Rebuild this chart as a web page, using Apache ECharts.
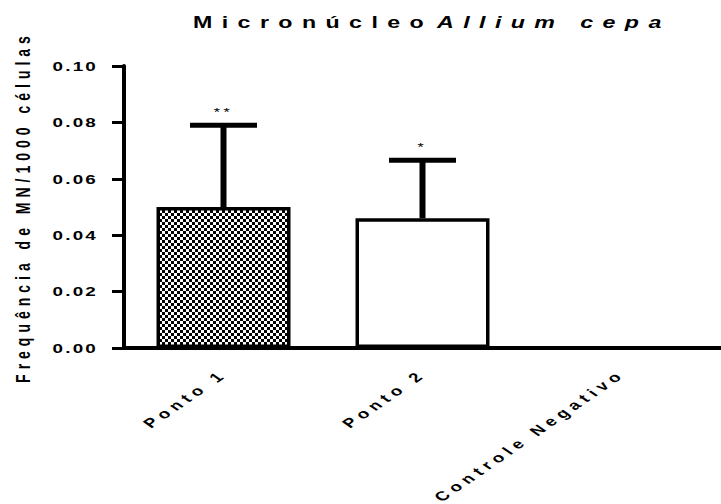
<!DOCTYPE html>
<html>
<head>
<meta charset="utf-8">
<script src="https://cdn.jsdelivr.net/npm/echarts@6/dist/echarts.min.js"></script>
<style>
html,body{margin:0;padding:0;background:#fff;}
#chart{width:721px;height:504px;}
</style>
</head>
<body>
<div id="chart"></div>
<script>
// ---- data ----
const categories = ['Ponto 1', 'Ponto 2', 'Controle Negativo'];
const meanValues = [0.050, 0.046, 0];
const sdValues = [0.029, 0.0206, 0];
const significance = ['**', '*', ''];
const titleMain = 'Micronúcleo';
const titleSpecies = 'Allium cepa';
const yAxisTitle = 'Frequência de MN/1000 células';
const yMin = 0, yMax = 0.10, yStep = 0.02;

// ---- styling helpers ----
const FONT = "'Liberation Sans', Arial, Helvetica, sans-serif";
function checkerPattern() {
  const c = document.createElement('canvas');
  c.width = 6; c.height = 6;
  const g = c.getContext('2d');
  g.fillStyle = '#fff'; g.fillRect(0, 0, 6, 6);
  g.fillStyle = '#000'; g.fillRect(0, 0, 3, 3); g.fillRect(3, 3, 3, 3);
  return c.toDataURL();
}
const patternFill = { image: checkerPattern(), repeat: 'repeat', imageWidth: 6, imageHeight: 6 };

const barData = meanValues.map((v, i) => ({
  value: v,
  itemStyle: { color: i === 0 ? patternFill : '#ffffff' }
}));
const errData = meanValues.map((v, i) => [i, v, v + sdValues[i]]);

const option = {
  animation: false,
  backgroundColor: '#ffffff',
  title: [
    { text: titleMain, left: 193, top: 14, padding: 0,
      textStyle: { fontFamily: FONT, fontSize: 16, fontWeight: 'bold', color: '#000' } },
    { text: titleSpecies, left: 437, top: 14, padding: 0,
      textStyle: { fontFamily: FONT, fontSize: 16, fontWeight: 'bold', fontStyle: 'italic', color: '#000' } }
  ],
  grid: { left: 124, right: -14, top: 66, bottom: 156, containLabel: false },
  xAxis: {
    type: 'category',
    data: categories,
    axisLine: { lineStyle: { color: '#000', width: 4 } },
    axisTick: { alignWithLabel: true, length: 8, lineStyle: { color: '#000', width: 4 } },
    axisLabel: { interval: 0, rotate: 45, margin: 24, color: '#000',
      fontFamily: FONT, fontSize: 13, fontWeight: 'bold' },
    splitLine: { show: false }
  },
  yAxis: {
    type: 'value',
    min: yMin, max: yMax, interval: yStep,
    name: yAxisTitle,
    nameLocation: 'middle',
    nameRotate: 90,
    nameGap: 94,
    nameTextStyle: { fontFamily: FONT, fontSize: 14, fontWeight: 'bold', color: '#000' },
    axisLine: { show: true, lineStyle: { color: '#000', width: 4 } },
    axisTick: { show: true, length: 12, lineStyle: { color: '#000', width: 3 } },
    axisLabel: { margin: 26, color: '#000', fontFamily: FONT, fontSize: 13, fontWeight: 'bold',
      formatter: v => v.toFixed(2) },
    splitLine: { show: false }
  },
  series: [
    {
      type: 'bar',
      data: barData,
      barWidth: 134,
      itemStyle: { borderColor: '#000', borderWidth: 3.5 },
      z: 2
    },
    {
      type: 'custom',
      data: errData,
      encode: { x: 0, y: [1, 2] },
      z: 3,
      renderItem: function (params, api) {
        const i = api.value(0), lo = api.value(1), hi = api.value(2);
        if (!(hi > lo)) return null;
        const pLo = api.coord([i, lo]);
        const pHi = api.coord([i, hi]);
        const half = 33.5;
        return {
          type: 'group',
          children: [
            { type: 'line', shape: { x1: pLo[0], y1: pLo[1], x2: pHi[0], y2: pHi[1] },
              style: { stroke: '#000', lineWidth: 6 } },
            { type: 'line', shape: { x1: pHi[0] - half, y1: pHi[1], x2: pHi[0] + half, y2: pHi[1] },
              style: { stroke: '#000', lineWidth: 5 } },
            { type: 'text', x: pHi[0], y: pHi[1] - 13,
              style: { text: significance[params.dataIndex], fill: '#000', align: 'center',
                verticalAlign: 'middle', fontFamily: FONT, fontSize: 11 } }
          ]
        };
      }
    }
  ]
};

const dom = document.getElementById('chart');
const chart = echarts.init(dom, null, { renderer: 'svg' });
chart.setOption(option);

// Prism-like wide, letter-spaced lettering
function textLook(t) {
  if (t === titleMain || t === titleSpecies) return { s: 6.5, sx: 1.45 };
  if (t === yAxisTitle) return { s: 5, sx: 1.45 };
  if (categories.indexOf(t) >= 0) return { s: 4, sx: 1.45 };
  if (t && significance.indexOf(t) >= 0) return { s: 2.5, sx: 1.45 };
  if (/^\d\.\d\d$/.test(t)) return { s: 1.5, sx: 1.45 };
  return null;
}
const applied = new WeakMap();
function styleTexts() {
  const svg = dom.querySelector('svg');
  if (!svg) return;
  svg.querySelectorAll('text').forEach(el => {
    const look = textLook(el.textContent);
    if (!look) return;
    const cur = el.getAttribute('transform') || '';
    if (applied.get(el) === cur) return;
    el.setAttribute('letter-spacing', look.s);
    const x = parseFloat(el.getAttribute('x')) || 0;
    const y = parseFloat(el.getAttribute('y')) || 0;
    const m = el.getCTM();
    const px = m.a * x + m.c * y + m.e;
    const py = m.b * x + m.d * y + m.f;
    const nt = 'translate(' + px + ' ' + py + ') scale(' + look.sx + ' 1) translate(' + (-px) + ' ' + (-py) + ') ' + cur;
    el.setAttribute('transform', nt);
    applied.set(el, nt);
  });
}
chart.on('finished', styleTexts);
styleTexts();
setTimeout(styleTexts, 50);
setTimeout(styleTexts, 300);
</script>
</body>
</html>
